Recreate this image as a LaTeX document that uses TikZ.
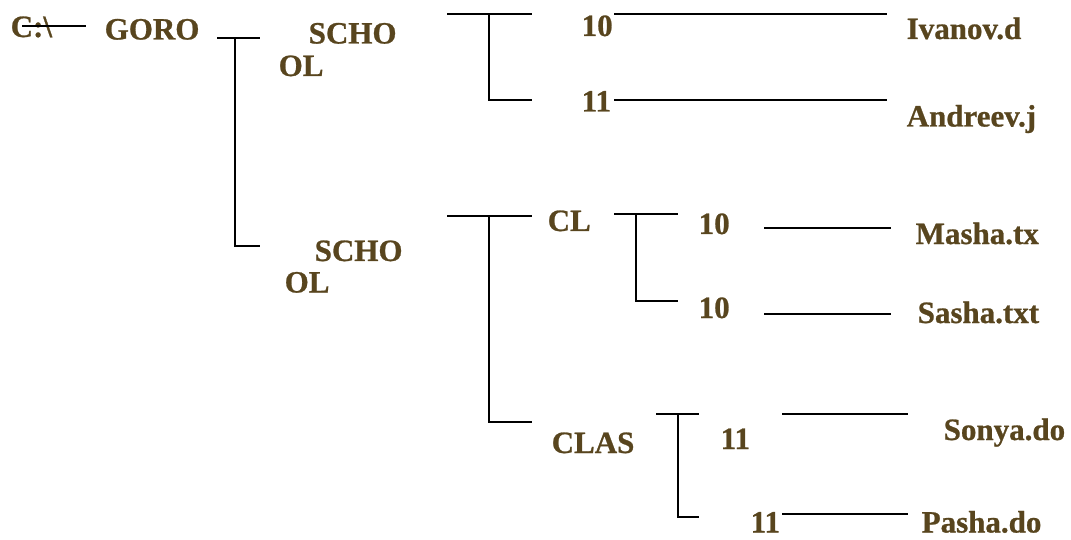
\documentclass[tikz,border=0pt]{standalone}
\usepackage{fontspec}
\setmainfont{Liberation Serif}[BoldFeatures={FakeBold=0.8}]
\definecolor{txtbrown}{RGB}{88,69,30}
\begin{document}
\begin{tikzpicture}[x=1pt,y=-1pt,
  lbl/.style={font=\fontsize{31}{31}\selectfont\bfseries, text=txtbrown, inner sep=0pt, anchor=base west},
  ln/.style={line width=2pt, black}]
\useasboundingbox (0,0) rectangle (1071,540);
% labels
\node[lbl] (croot) at (10.5,37) {C:\textbackslash};
\node[lbl] (goro) at (104.5,39.5) {GORO};
\node[lbl] (schoA) at (308.5,43.5) {SCHO};
\node[lbl] (olA) at (278.5,76) {OL};
\node[lbl] (schoB) at (314.5,261) {SCHO};
\node[lbl] (olB) at (284.5,292.5) {OL};
\node[lbl] (tenA) at (581.5,36) {10};
\node[lbl] (elevA) at (581.5,111.5) {11};
\node[lbl] (ivanov) at (906.5,39) {Ivanov.d};
\node[lbl] (andreev) at (906.5,126.5) {Andreev.j};
\node[lbl] (cl) at (547.5,231) {CL};
\node[lbl] (tenB) at (698.5,234) {10};
\node[lbl] (tenC) at (698.5,318) {10};
\node[lbl] (masha) at (915.5,244) {Masha.tx};
\node[lbl] (sasha) at (917.5,323) {Sasha.txt};
\node[lbl] (clas) at (551.5,453) {CLAS};
\node[lbl] (elevB) at (720.5,449) {11};
\node[lbl] (elevC) at (750.5,532.5) {11};
\node[lbl] (sonya) at (943.5,440) {Sonya.do};
\node[lbl] (pasha) at (921.5,532.5) {Pasha.do};
% line end points
\coordinate (r1) at (22,25.7);   \coordinate (r2) at (86,25.7);
\coordinate (g1) at (217,37.7);  \coordinate (g2) at (260,37.7);
\coordinate (g3) at (235,37.7);  \coordinate (g4) at (235,245.7);
\coordinate (g5) at (260,245.7);
\coordinate (s1) at (447,13.7);  \coordinate (s2) at (532,13.7);
\coordinate (s3) at (489,13.7);  \coordinate (s4) at (489,100);
\coordinate (s5) at (532,100);
\coordinate (t1) at (614,13.7);  \coordinate (t2) at (887,13.7);
\coordinate (t3) at (614,100);   \coordinate (t4) at (887,100);
\coordinate (u1) at (447,216);   \coordinate (u2) at (532,216);
\coordinate (u3) at (489,216);   \coordinate (u4) at (489,422);
\coordinate (u5) at (532,422);
\coordinate (v1) at (614,214.3); \coordinate (v2) at (678,214.3);
\coordinate (v3) at (636,214.3); \coordinate (v4) at (636,300.7);
\coordinate (v5) at (678,300.7);
\coordinate (w1) at (764,228.3); \coordinate (w2) at (891,228.3);
\coordinate (w3) at (764,314.3); \coordinate (w4) at (891,314.3);
\coordinate (x1) at (656,414);   \coordinate (x2) at (699,414);
\coordinate (x3) at (678,414);   \coordinate (x4) at (678,516.7);
\coordinate (x5) at (699,516.7);
\coordinate (y1) at (782,414);   \coordinate (y2) at (908,414);
\coordinate (y3) at (782,514);   \coordinate (y4) at (908,514);
% lines
\draw[ln] (r1) -- (r2);
\draw[ln] (g1) -- (g2);
\draw[ln] (g3) -- (g4) -- (g5);
\draw[ln] (s1) -- (s2);
\draw[ln] (s3) -- (s4) -- (s5);
\draw[ln] (t1) -- (t2);
\draw[ln] (t3) -- (t4);
\draw[ln] (u1) -- (u2);
\draw[ln] (u3) -- (u4) -- (u5);
\draw[ln] (v1) -- (v2);
\draw[ln] (v3) -- (v4) -- (v5);
\draw[ln] (w1) -- (w2);
\draw[ln] (w3) -- (w4);
\draw[ln] (x1) -- (x2);
\draw[ln] (x3) -- (x4) -- (x5);
\draw[ln] (y1) -- (y2);
\draw[ln] (y3) -- (y4);
\end{tikzpicture}
\end{document}
